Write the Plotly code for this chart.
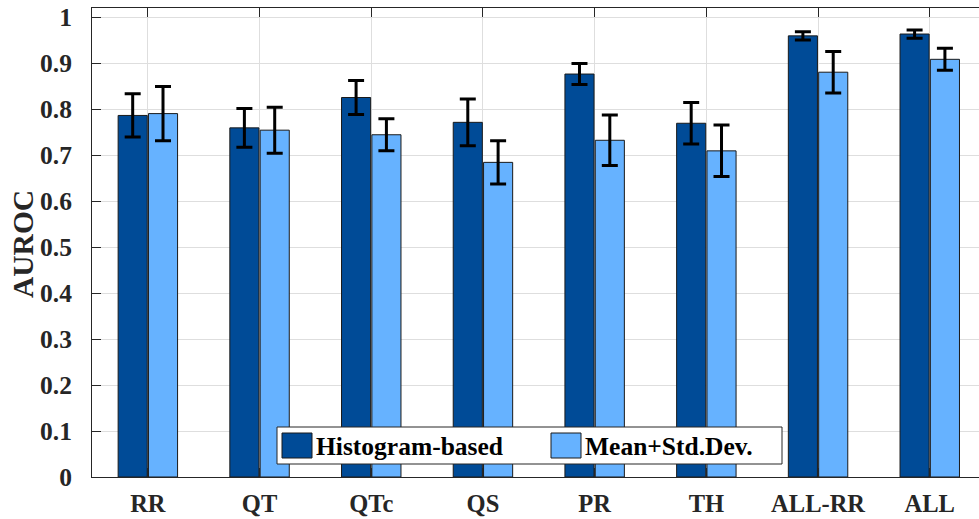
import plotly.graph_objects as go

categories = ["RR", "QT", "QTc", "QS", "PR", "TH", "ALL-RR", "ALL"]
hist_vals = [0.786, 0.759, 0.825, 0.771, 0.876, 0.769, 0.959, 0.963]
hist_err = [0.047, 0.042, 0.037, 0.051, 0.023, 0.045, 0.009, 0.009]
mean_vals = [0.790, 0.754, 0.744, 0.684, 0.732, 0.709, 0.880, 0.908]
mean_err = [0.059, 0.050, 0.035, 0.047, 0.055, 0.056, 0.045, 0.024]
series_names = ["Histogram-based", "Mean+Std.Dev."]
y_ticks = [0, 0.1, 0.2, 0.3, 0.4, 0.5, 0.6, 0.7, 0.8, 0.9, 1]
y_ticklabels = ["0", "0.1", "0.2", "0.3", "0.4", "0.5", "0.6", "0.7", "0.8", "0.9", "1"]
y_title = "AUROC"

DARK = "#004b97"
LIGHT = "#66b2ff"
FONT = "Liberation Serif"
TXT = "#262626"

W, H = 979, 519
L, R, T, B = 92, 0, 8, 42
PW, PH = W - L - R, H - T - B

fig = go.Figure()
for name, vals, errs, col in [(series_names[0], hist_vals, hist_err, DARK),
                              (series_names[1], mean_vals, mean_err, LIGHT)]:
    fig.add_trace(go.Bar(
        x=categories, y=vals, name=name,
        marker=dict(color=col, line=dict(color="#1a1a1a", width=1)),
        error_y=dict(type="data", array=errs, visible=True, color="black",
                     thickness=3, width=8),
        showlegend=False,
    ))

def px(xp):
    return (xp - L) / PW

def py(yp):
    return (H - B - yp) / PH

# custom legend (box, swatches, labels)
shapes = [
    dict(type="rect", xref="paper", yref="paper", x0=px(277), x1=px(782), y0=py(464), y1=py(427),
         fillcolor="white", line=dict(color="#262626", width=1), layer="above"),
    dict(type="rect", xref="paper", yref="paper", x0=px(282), x1=px(312), y0=py(458), y1=py(433),
         fillcolor=DARK, line=dict(color="#1a1a1a", width=1), layer="above"),
    dict(type="rect", xref="paper", yref="paper", x0=px(551), x1=px(581), y0=py(458), y1=py(433),
         fillcolor=LIGHT, line=dict(color="#1a1a1a", width=1), layer="above"),
]
annotations = [
    dict(xref="paper", yref="paper", x=px(314), y=py(446), text=series_names[0], showarrow=False,
         xanchor="left", yanchor="middle", font=dict(family=FONT, size=25.5, color="black", weight="bold")),
    dict(xref="paper", yref="paper", x=px(583), y=py(446), text=series_names[1], showarrow=False,
         xanchor="left", yanchor="middle", font=dict(family=FONT, size=25.5, color="black", weight="bold")),
    dict(xref="paper", yref="paper", x=px(23), y=py(244), text=y_title, showarrow=False, textangle=-90,
         xanchor="center", yanchor="middle", font=dict(family=FONT, size=29.5, color=TXT, weight="bold")),
]

fig.update_layout(
    width=W, height=H,
    margin=dict(l=L, r=R, t=T, b=B, pad=0),
    paper_bgcolor="white", plot_bgcolor="white",
    barmode="group", bargap=0.457, bargroupgap=0.04,
    font=dict(family=FONT, color=TXT),
    shapes=shapes, annotations=annotations,
    showlegend=False,
)
fig.update_xaxes(
    range=[-0.5, -0.5 + PW / 111.7],
    showline=True, linecolor=TXT, linewidth=1, mirror="ticks",
    ticks="inside", ticklen=9, tickcolor=TXT, tickwidth=1,
    showgrid=True, gridcolor="#dedede", gridwidth=1,
    tickfont=dict(family=FONT, size=24.5, color=TXT, weight="bold"),
    ticklabelstandoff=5,
)
fig.update_yaxes(
    range=[0, PH / 460],
    tickvals=y_ticks, ticktext=y_ticklabels,
    showline=True, linecolor=TXT, linewidth=1, mirror=False,
    ticks="inside", ticklen=9, tickcolor=TXT, tickwidth=1,
    showgrid=True, gridcolor="#dedede", gridwidth=1, zeroline=False,
    tickfont=dict(family=FONT, size=25.5, color=TXT, weight="bold"),
    ticklabelstandoff=14,
)

fig.write_html("out.html")
